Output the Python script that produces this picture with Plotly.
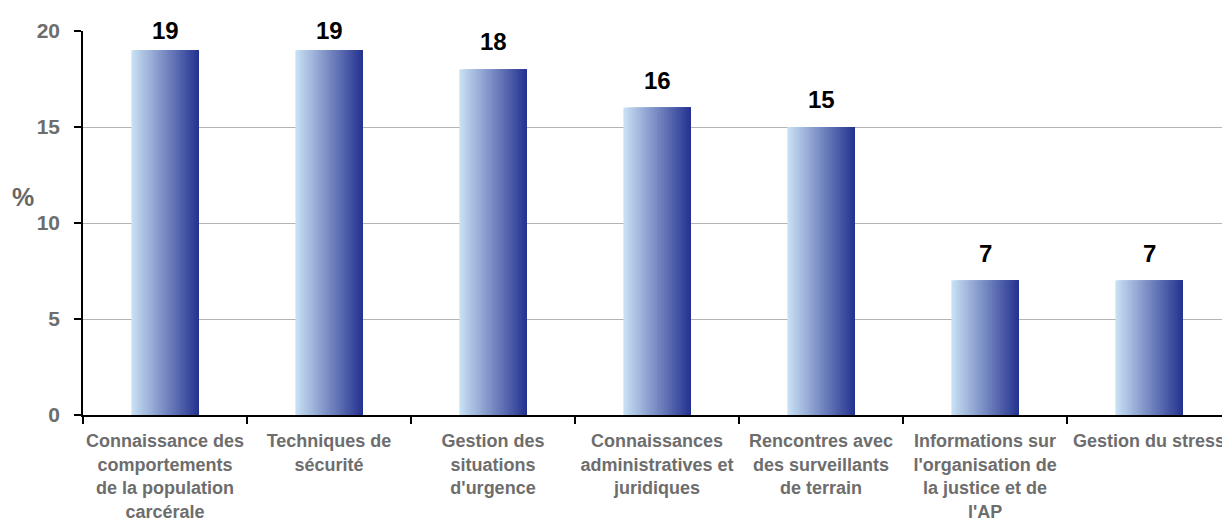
import plotly.graph_objects as go

categories = [
    "Connaissance des<br>comportements<br>de la population<br>carcérale",
    "Techniques de<br>sécurité",
    "Gestion des<br>situations<br>d'urgence",
    "Connaissances<br>administratives et<br>juridiques",
    "Rencontres avec<br>des surveillants<br>de terrain",
    "Informations sur<br>l'organisation de<br>la justice et de<br>l'AP",
    "Gestion du stress",
]
values = [19, 19, 18, 16, 15, 7, 7]
y_ticks = [0, 5, 10, 15, 20]

FONT = "Liberation Sans, Arial"
Y_MAX = 20
PLOT_TOP, PLOT_BOTTOM = 31, 104
HEIGHT = 519

# Horizontal gradient for the bars: light blue on the left to deep blue on the right
left_rgb = (200, 224, 244)
right_rgb = (38, 52, 145)
n_steps = 48
bar_width = 0.41

fig = go.Figure()
step = bar_width / n_steps
for i in range(n_steps):
    t = i / (n_steps - 1)
    r, g, b = (round(a + (c - a) * t) for a, c in zip(left_rgb, right_rgb))
    # each slice runs to the right edge of the bar; later slices cover earlier ones
    fig.add_trace(go.Bar(
        x=categories, y=values,
        width=bar_width - i * step,
        offset=-bar_width / 2 + i * step,
        marker=dict(color=f"rgb({r},{g},{b})", line=dict(width=0)),
        showlegend=False, hoverinfo="skip",
    ))

# value labels above each bar, kept from rising past the top of the plot area
px_per_unit = (HEIGHT - PLOT_TOP - PLOT_BOTTOM) / Y_MAX
for cat, v in zip(categories, values):
    shift = min(12, (Y_MAX - v) * px_per_unit - 15)
    fig.add_annotation(
        x=cat, y=v, xref="x", yref="y", text=f"<b>{v}</b>",
        showarrow=False, yanchor="bottom", yshift=shift,
        font=dict(family=FONT, size=24, color="#000000"),
    )

fig.add_annotation(
    text="<b>%</b>", xref="paper", yref="paper", x=-0.0527, y=0.568,
    xanchor="center", yanchor="middle", showarrow=False,
    font=dict(family=FONT, size=25, color="#666666"),
)

fig.update_layout(
    width=1222, height=HEIGHT,
    margin=dict(l=83, r=0, t=PLOT_TOP, b=PLOT_BOTTOM),
    barmode="overlay",
    plot_bgcolor="white", paper_bgcolor="white",
    font=dict(family=FONT),
)
fig.update_xaxes(
    range=[-0.5, 6.445], automargin=False, tickangle=0,
    showline=True, linecolor="black", linewidth=1.5,
    ticks="outside", tickson="boundaries", ticklen=7, tickcolor="black", tickwidth=1.5,
    tickfont=dict(size=18, color="#6d6d6d", weight="bold"),
    ticklabelstandoff=9,
    showgrid=False,
)
fig.update_yaxes(
    range=[0, Y_MAX], tickvals=y_ticks, automargin=False,
    showline=True, linecolor="black", linewidth=1.5,
    ticks="outside", ticklen=7, tickcolor="black", tickwidth=1.5,
    tickfont=dict(size=21, color="#6d6d6d", weight="bold"),
    ticklabelstandoff=10,
    showgrid=True, gridcolor="#b4b4b4", gridwidth=1,
    zeroline=False,
)

fig.write_html("out.html")
